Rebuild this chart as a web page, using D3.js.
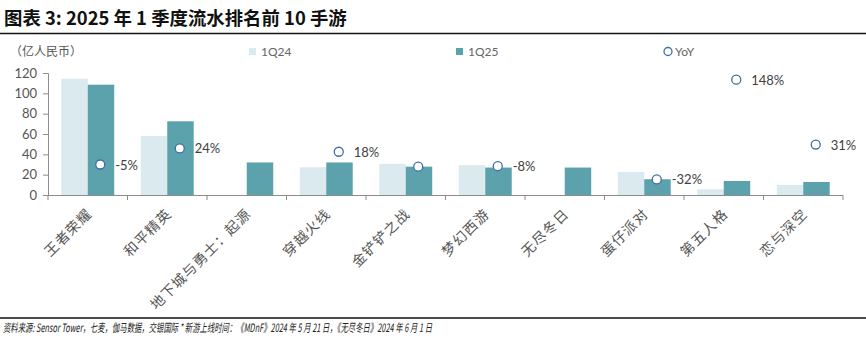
<!DOCTYPE html>
<html><head><meta charset="utf-8">
<script src="https://cdn.jsdelivr.net/npm/d3@7"></script>
<style>
body{margin:0;background:#fff;}
svg{display:block;}
</style></head>
<body>
<svg id="c" width="866" height="356"></svg>
<script>
const categories = ["王者荣耀","和平精英","地下城与勇士：起源","穿越火线","金铲铲之战","梦幻西游","无尽冬日","蛋仔派对","第五人格","恋与深空"];
const q24 = [114.4, 58, null, 27.3, 30.6, 29.3, null, 22.7, 5.6, 9.8];
const q25 = [108.5, 72.5, 32, 32, 27.9, 27, 27, 15.5, 13.8, 12.8];
const yoy = [-5, 24, null, 18, -9, -8, null, -32, 148, 31];
const yoyLabels = ["-5%","24%",null,"18%",null,"-8%",null,"-32%","148%","31%"];
const yTicks = [0,20,40,60,80,100,120];

(function(){
const svg = d3.select("#c");
const pLeft = 48, pRight = 843, pTop = 73, pBottom = 195;
const cjk = "'Noto Sans CJK SC', sans-serif";
const latin = "Lato, 'Noto Sans', sans-serif";

// Title
svg.append("text").attr("x",4).attr("y",25).attr("font-family",cjk).attr("font-weight","bold")
  .attr("font-size",18.4).attr("fill","#111").text("图表 3: 2025 年 1 季度流水排名前 10 手游");
svg.append("line").attr("x1",0).attr("x2",866).attr("y1",33.5).attr("y2",33.5).attr("stroke","#111").attr("stroke-width",1.5);

// unit
svg.append("text").attr("x",10).attr("y",56).attr("font-family",cjk).attr("font-size",12).attr("fill","#555").text("（亿人民币）");

const x = d3.scaleBand().domain(categories).range([pLeft,pRight]);
const bw = x.bandwidth();
const xs = d3.scaleBand().domain(["q24","q25"]).range([bw*0.167, bw*0.833]);
const y = d3.scaleLinear().domain([0,120]).range([pBottom, pTop]);
const y2 = d3.scaleLinear().domain([-60,160]).range([pBottom, pTop]);

// bars
const light = "#daeaee", dark = "#5ba2ad";
svg.append("g").selectAll("rect").data(categories.map((c,i)=>({c,v:q24[i]})).filter(d=>d.v!=null))
  .join("rect").attr("x",d=>x(d.c)+xs("q24")).attr("width",xs.bandwidth())
  .attr("y",d=>y(d.v)).attr("height",d=>y(0)-y(d.v)).attr("fill",light);
svg.append("g").selectAll("rect").data(categories.map((c,i)=>({c,v:q25[i]})))
  .join("rect").attr("x",d=>x(d.c)+xs("q25")).attr("width",xs.bandwidth())
  .attr("y",d=>y(d.v)).attr("height",d=>y(0)-y(d.v)).attr("fill",dark);

// y axis
const ya = svg.append("g").attr("transform",`translate(${pLeft},0)`)
  .call(d3.axisLeft(y).tickValues(yTicks).tickSize(5).tickPadding(6));
ya.selectAll("text").attr("font-family",latin).attr("font-size",13).attr("fill","#555");
ya.selectAll("line,path").attr("stroke","#8c8c8c");

// x axis
const xa = svg.append("g").attr("transform",`translate(0,${pBottom})`)
  .call(d3.axisBottom(x).tickSize(0).tickFormat(""));
xa.select("path").attr("stroke","#8c8c8c").attr("d",`M${pLeft},0.5H${pRight}`);
xa.selectAll(".tick").remove();
const bounds = categories.map(c=>x(c)).concat([pRight]);
svg.append("g").selectAll("line").data(bounds).join("line")
  .attr("x1",d=>d).attr("x2",d=>d).attr("y1",pBottom).attr("y2",pBottom+5).attr("stroke","#8c8c8c");

// x labels
svg.append("g").selectAll("text").data(categories).join("text")
  .attr("transform",d=>`translate(${x(d)+bw/2+5},${pBottom+20}) rotate(-45)`)
  .attr("text-anchor","end").attr("font-family",cjk).attr("font-size",14).attr("letter-spacing",1)
  .attr("fill","#555").text(d=>d);

// YoY markers
const mx = d => x(d)+bw/2+12.5;
const pts = categories.map((c,i)=>({c,v:yoy[i],l:yoyLabels[i]})).filter(d=>d.v!=null);
svg.append("g").selectAll("circle").data(pts).join("circle")
  .attr("cx",d=>mx(d.c)).attr("cy",d=>y2(d.v)).attr("r",4.5)
  .attr("fill","#fff").attr("stroke","#3f6ea3").attr("stroke-width",1.3);
svg.append("g").selectAll("text").data(pts.filter(d=>d.l)).join("text")
  .attr("x",d=>mx(d.c)+15).attr("y",d=>y2(d.v)+5).attr("font-family",latin).attr("font-size",13)
  .attr("fill","#404040").text(d=>d.l);

// legend
const lg = svg.append("g").attr("font-family",latin).attr("font-size",12).attr("fill","#666");
lg.append("rect").attr("x",249).attr("y",48).attr("width",7).attr("height",7).attr("fill",light);
lg.append("text").attr("x",261).attr("y",56).text("1Q24");
lg.append("rect").attr("x",456).attr("y",48).attr("width",7).attr("height",7).attr("fill",dark);
lg.append("text").attr("x",468).attr("y",56).text("1Q25");
lg.append("circle").attr("cx",668).attr("cy",51.5).attr("r",4).attr("fill","#fff").attr("stroke","#3f6ea3").attr("stroke-width",1.3);
lg.append("text").attr("x",675).attr("y",56).text("YoY");

// footer
svg.append("line").attr("x1",0).attr("x2",866).attr("y1",318).attr("y2",318).attr("stroke","#111").attr("stroke-width",1.5);
svg.append("text").attr("x",3).attr("y",332).attr("font-family",cjk).attr("font-style","italic")
  .attr("font-size",11.5).attr("fill","#222").attr("textLength",429).attr("lengthAdjust","spacingAndGlyphs")
  .text("资料来源: Sensor Tower，七麦，伽马数据，交银国际   * 新游上线时间：《MDnF》2024 年 5 月 21 日，《无尽冬日》2024 年 6 月 1 日");
})();
</script>
</body></html>
